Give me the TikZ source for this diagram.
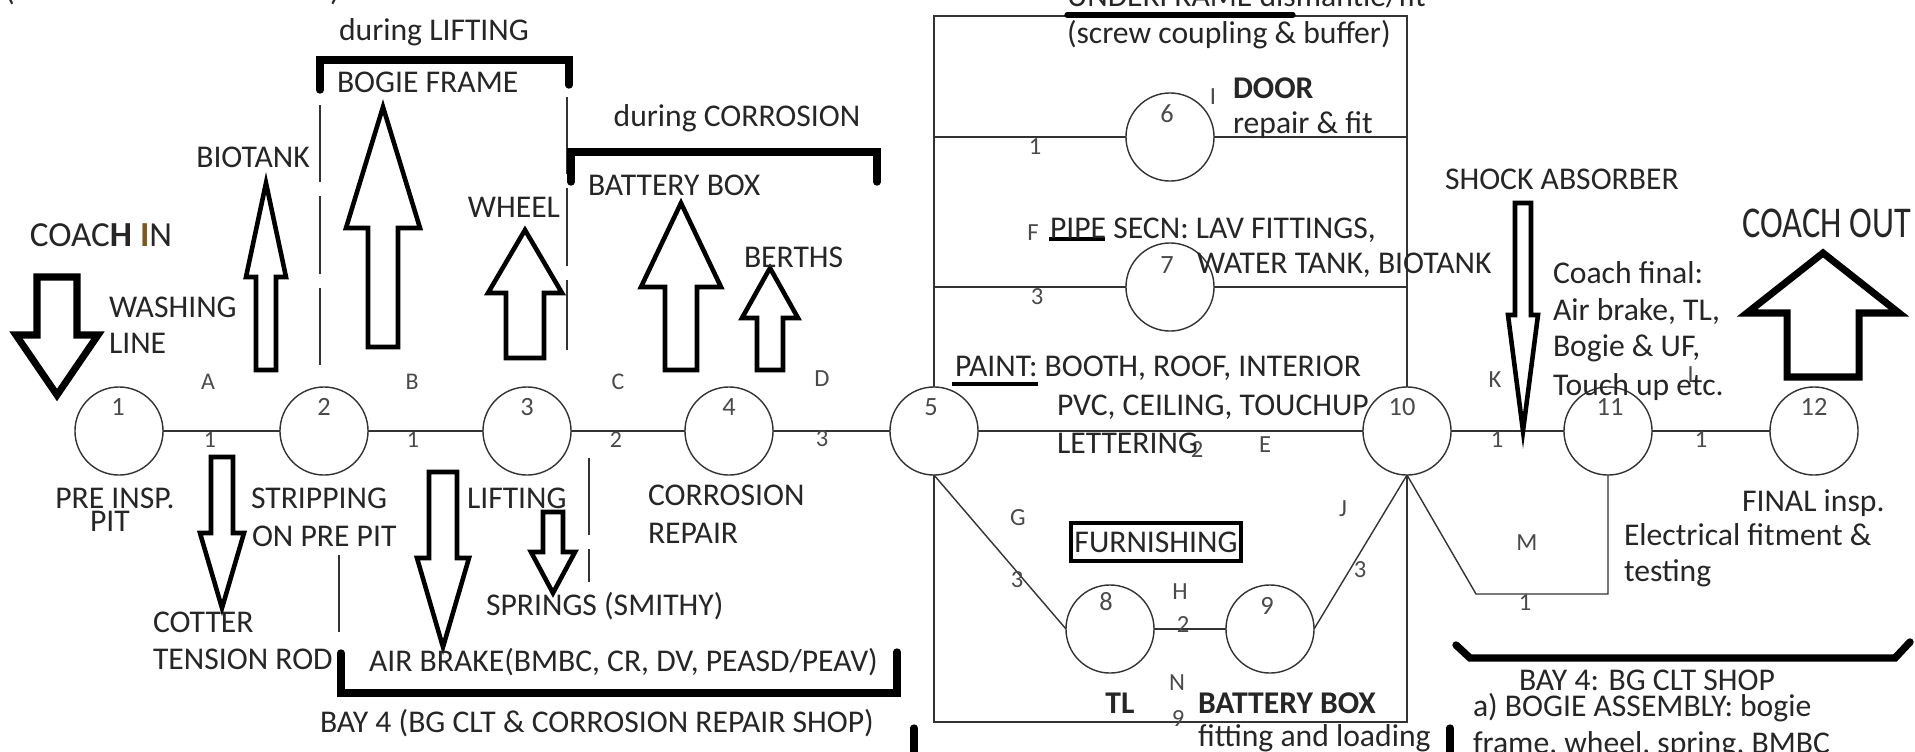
\documentclass[tikz,border=0pt]{standalone}
\usepackage{fontspec}
\setmainfont{Carlito}
\usepackage{graphicx}
\definecolor{txt}{HTML}{262626}
\definecolor{lbl}{HTML}{4A4A4A}
\definecolor{ln}{HTML}{333333}
\definecolor{brn}{HTML}{7A5A20}
\newcommand{\blkarrow}[7]{\draw[#1] (#2,#3) -- ({#2+#5},#4) -- ({#2+#6},#4) -- ({#2+#6},#7) -- ({#2-#6},#7) -- ({#2-#6},#4) -- ({#2-#5},#4) -- cycle;}
\begin{document}
\begin{tikzpicture}[x=0.01cm,y=-0.01cm,
  every node/.style={inner sep=0pt,outer sep=0pt,text=txt,font=\fontsize{9}{11}\selectfont},
  ev/.style={circle,draw=ln,line width=0.4pt,minimum size=0.88cm},
  num/.style={text=lbl,font=\fontsize{7.5}{8}\selectfont},
  lab/.style={text=lbl,font=\fontsize{7}{8}\selectfont},
  sml/.style={text=lbl,font=\fontsize{6.8}{7}\selectfont},
  bld/.style={font=\fontsize{9}{11}\selectfont\bfseries},
  conn/.style={draw=ln,line width=0.4pt},
  blk/.style={draw=black,line width=1.3pt,fill=white},
  heavy/.style={draw=black,line width=2pt,fill=white},
  brk/.style={draw=black,line width=2.1pt,line cap=round},
  dsh/.style={draw=ln,line width=0.4pt,dash pattern=on 22pt off 4pt}]
\fill[white] (0,0) rectangle (1915,751);
\useasboundingbox (0,0) rectangle (1915,751);

% events
\node[ev] (e1) at (119,431) {};
\node[ev] (e2) at (324,431) {};
\node[ev] (e3) at (527,431) {};
\node[ev] (e4) at (729,431) {};
\node[ev] (e5) at (934,431) {};
\node[ev] (e6) at (1170,137) {};
\node[ev] (e7) at (1170,287) {};
\node[ev] (e8) at (1110,629) {};
\node[ev] (e9) at (1270,629) {};
\node[ev] (e10) at (1407,431) {};
\node[ev] (e11) at (1608,431) {};
\node[ev] (e12) at (1814,431) {};
\foreach \n/\x/\y in {1/118/407,2/324/407,3/527/407,4/729/407,5/931/407,6/1167/114,7/1167/265,8/1106/602,9/1267/606,10/1402/407,11/1610/407,12/1814/407}
  \node[num] (n\n) at (\x,\y) {\n};

% box corners
\coordinate (bTL) at (934,16);
\coordinate (bTR) at (1407,16);
\coordinate (bBL) at (934,722);
\coordinate (bBR) at (1407,722);
\coordinate (l6) at (934,137);
\coordinate (r6) at (1407,137);
\coordinate (l7) at (934,287);
\coordinate (r7) at (1407,287);
\coordinate (mA) at (1476,594);
\coordinate (mB) at (1608,594);

% connectors
\draw[conn] (e1) -- (e2);
\draw[conn] (e2) -- (e3);
\draw[conn] (e3) -- (e4);
\draw[conn] (e4) -- (e5);
\draw[conn] (e5) -- (e10);
\draw[conn] (e10) -- (e11);
\draw[conn] (e11) -- (e12);
\draw[conn] (e5.north) -- (bTL) -- (bTR) -- (e10.north);
\draw[conn] (e5.south) -- (bBL) -- (bBR) -- (e10.south);
\draw[conn] (l6) -- (e6.west);
\draw[conn] (e6.east) -- (r6);
\draw[conn] (l7) -- (e7.west);
\draw[conn] (e7.east) -- (r7);
\draw[conn] (e5.south) -- (e8.west);
\draw[conn] (e8) -- (e9);
\draw[conn] (e9.east) -- (e10.south);
\draw[conn] (e10.south) -- (mA) -- (mB) -- (e11.south);

% connector labels
\node[sml] (lA) at (208,382) {A};
\node[sml] (lA1) at (210,440) {1};
\node[sml] (lB) at (412,382) {B};
\node[sml] (lB1) at (413,440) {1};
\node[sml] (lC) at (618,382) {C};
\node[sml] (lC2) at (616,440) {2};
\node[lab] (lD) at (822,379) {D};
\node[lab] (lD3) at (822,439) {3};
\node[lab] (l61) at (1035,147) {1};
\node[lab] (lI) at (1213,97) {I};
\node[lab] (lF) at (1033,233) {F};
\node[lab] (lF3) at (1037,297) {3};
\node[lab] (lE) at (1265,445) {E};
\node[lab] (lE2) at (1197,450) {2};
\node[lab] (lG) at (1018,518) {G};
\node[lab] (lG3) at (1017,580) {3};
\node[lab] (lH) at (1180,592) {H};
\node[lab] (lH2) at (1183,625) {2};
\node[lab] (lJ) at (1343,509) {J};
\node[lab] (lJ3) at (1360,570) {3};
\node[lab] (lN) at (1177,683) {N};
\node[lab] (lN9) at (1178,718) {9};
\node[lab] (lK) at (1495,380) {K};
\node[lab] (lK1) at (1497,440) {1};
\node[lab] (lL) at (1693,375) {L};
\node[lab] (lL1) at (1701,440) {1};
\node[lab] (lM) at (1527,543) {M};
\node[lab] (lM1) at (1525,603) {1};

% dashed separators
\draw[dsh] (320,105) -- (320,367);
\draw[dsh] (567,97) -- (567,350);
\draw[dsh] (339,555) -- (339,637);
\draw[dsh] (589,458) -- (589,582);

% brackets
\draw[brk] (320,90) -- (320,60) -- (569,60) -- (569,85);
\draw[brk] (571,182) -- (571,152) -- (877,152) -- (877,182);
\draw[brk] (341,653) -- (341,693) -- (897,693) -- (897,652);
\draw[brk] (1456,645) -- (1470,658) -- (1895,658) -- (1910,642);
\draw[brk] (914,728) -- (914,760);
\draw[brk] (1450,728) -- (1450,760);
\draw[draw=black,line width=1.5pt,line cap=round] (1067,15) -- (1293,15);
\draw[draw=black,line width=1.2pt] (1049,239) -- (1105,239);
\draw[draw=black,line width=1.2pt] (952,384) -- (1038,384);

% block arrows
\blkarrow{heavy}{57}{395}{335}{41}{20}{277}
\blkarrow{blk}{266}{183}{277}{20}{10}{370}
\blkarrow{blk}{383}{107}{228}{37}{15}{347}
\blkarrow{blk}{525}{230}{293}{37}{19}{358}
\blkarrow{blk}{681}{203}{287}{40}{16}{370}
\blkarrow{blk}{770}{268}{318}{28}{13}{370}
\blkarrow{blk}{222}{608}{533}{22}{11}{457}
\blkarrow{blk}{443}{647}{558}{26}{14}{472}
\blkarrow{blk}{553}{593}{552}{22}{10}{512}
\blkarrow{blk}{1523}{431}{315}{15}{8}{203}
\blkarrow{heavy}{1823}{253}{313}{76}{36}{377}

% texts left part
\node[anchor=base] (tPl) at (10,0) {(};
\node[anchor=base] (tPr) at (335,0) {)};
\node[font=\fontsize{10}{12}\selectfont] (tIn) at (101,235) {COAC\textbf{H} \textcolor{brn}{\textbf{I}}N};
\node[anchor=west] (tWashing) at (109,307) {WASHING};
\node[anchor=west] (tLine) at (109,343) {LINE};
\node (tBiotank) at (253,157) {BIOTANK};
\node (tDuringL) at (434,32) {during LIFTING};
\node[anchor=west] (tBogie) at (337,82) {BOGIE FRAME};
\node (tWheel) at (514,207) {WHEEL};
\node (tDuringC) at (737,118) {during CORROSION};
\node[anchor=west] (tBatt) at (588,185) {BATTERY BOX};
\node[anchor=west] (tBerths) at (744,257) {BERTHS};
\node (tPre) at (115,498) {PRE INSP.};
\node (tPit) at (110,521) {PIT};
\node[anchor=west] (tStrip) at (251,498) {STRIPPING};
\node[anchor=west] (tOnPre) at (252,536) {ON PRE PIT};
\node[anchor=west] (tLifting) at (467,498) {LIFTING};
\node[anchor=west] (tCorr) at (648,495) {CORROSION};
\node[anchor=west] (tRepair) at (648,533) {REPAIR};
\node[anchor=west] (tCotter) at (153,622) {COTTER};
\node[anchor=west] (tTension) at (153,659) {TENSION ROD};
\node[anchor=west] (tSprings) at (486,606) {SPRINGS (SMITHY)};
\node[anchor=west] (tAir) at (369,662) {AIR BRAKE(BMBC, CR, DV, PEASD/PEAV)};
\node[anchor=west] (tBay4) at (320,723) {BAY 4 (BG CLT \& CORROSION REPAIR SHOP)};

% texts box
\node[anchor=base west] (tUF) at (1067,6) {UNDERFRAME dismantle/fit};
\node[anchor=west] (tScrew) at (1067,35) {(screw coupling \& buffer)};
\node[anchor=west,bld] (tDoor) at (1233,88) {DOOR};
\node[anchor=west] (tRepFit) at (1233,125) {repair \& fit};
\node[anchor=west] (tPipe) at (1050,230) {PIPE SECN: LAV FITTINGS,};
\node[anchor=west] (tWater) at (1197,265) {WATER TANK, BIOTANK};
\node[anchor=west] (tPaint) at (955,368) {PAINT: BOOTH, ROOF, INTERIOR};
\node[anchor=west] (tPvc) at (1057,407) {PVC, CEILING, TOUCHUP};
\node[anchor=west] (tLetter) at (1057,443) {LETTERING};
\node[draw=black,line width=1.2pt,minimum width=1.7cm,minimum height=0.38cm] (tFurn) at (1156,542) {FURNISHING};
\node[bld] (tTL) at (1120,703) {TL};
\node[anchor=west,bld] (tBattBox) at (1198,703) {BATTERY BOX};
\node[anchor=west] (tFit) at (1198,738) {fitting and loading};

% texts right part
\node[anchor=west] (tShock) at (1445,179) {SHOCK ABSORBER};
\node[anchor=west] (tCf1) at (1553,273) {Coach final:};
\node[anchor=west] (tCf2) at (1553,312) {Air brake, TL,};
\node[anchor=west] (tCf3) at (1553,348) {Bogie \& UF,};
\node[anchor=west] (tCf4) at (1553,387) {Touch up etc.};
\node[font=\fontsize{12.5}{14}\selectfont] (tOut) at (1827,223) {\scalebox{0.78}[1]{COACH OUT}};
\node[anchor=west] (tFinal) at (1742,503) {FINAL insp.};
\node[anchor=west] (tElec) at (1624,535) {Electrical fitment \&};
\node[anchor=west] (tTest) at (1624,573) {testing};
\node[anchor=west] (tBayClt) at (1519,680) {BAY 4: BG CLT SHOP};
\node[anchor=west] (tBogieAs) at (1473,708) {a) BOGIE ASSEMBLY: bogie};
\node[anchor=west] (tFrame) at (1473,745) {frame, wheel, spring, BMBC};
\end{tikzpicture}
\end{document}
